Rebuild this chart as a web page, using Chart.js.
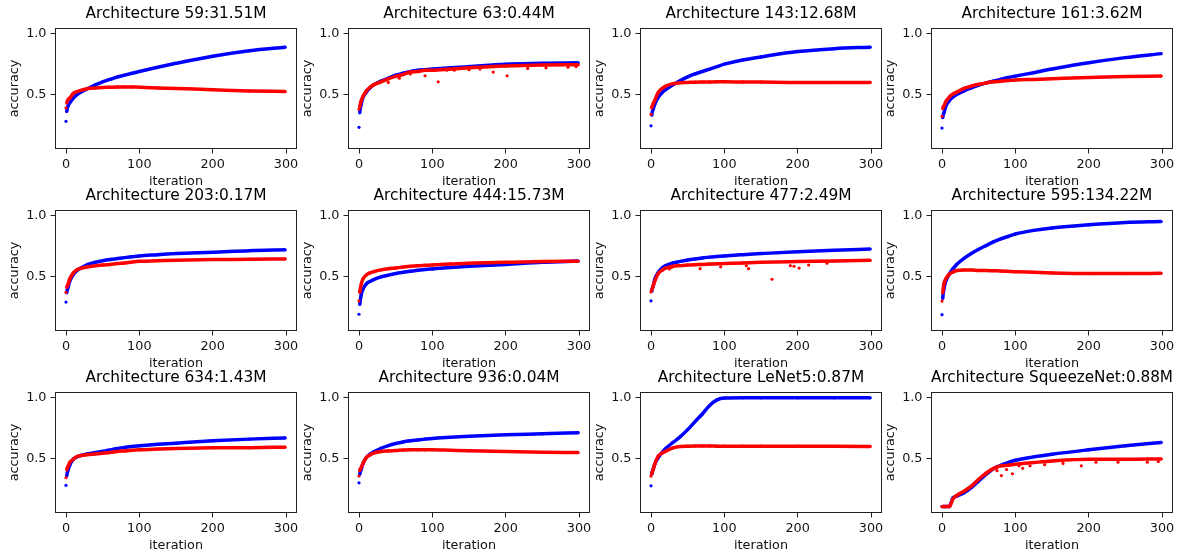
<!DOCTYPE html>
<html>
<head>
<meta charset="utf-8">
<script src="https://cdn.jsdelivr.net/npm/chart.js@4.4.1/dist/chart.umd.min.js"></script>
<style>
    body { margin: 0; background: #fff; width: 1180px; height: 559px; position: relative; overflow: hidden; }
    .cell { position: absolute; width: 307px; height: 194px; }
</style>
</head>
<body>
<script>
var iterations = [0, 1, 3, 5, 10, 15, 20, 30, 40, 50, 60, 70, 80, 90, 100, 125, 150, 200, 250, 299];

var titles = [
    "Architecture 59:31.51M", "Architecture 63:0.44M", "Architecture 143:12.68M", "Architecture 161:3.62M",
    "Architecture 203:0.17M", "Architecture 444:15.73M", "Architecture 477:2.49M", "Architecture 595:134.22M",
    "Architecture 634:1.43M", "Architecture 936:0.04M", "Architecture LeNet5:0.87M", "Architecture SqueezeNet:0.88M"
];

// blue points
var trainAcc = [
    [0.28, 0.36, 0.41, 0.43, 0.47, 0.50, 0.52, 0.55, 0.58, 0.605, 0.625, 0.645, 0.66, 0.675, 0.69, 0.725, 0.757, 0.815, 0.86, 0.89],
    [0.23, 0.35, 0.42, 0.47, 0.52, 0.555, 0.58, 0.61, 0.635, 0.66, 0.675, 0.69, 0.70, 0.705, 0.71, 0.72, 0.73, 0.75, 0.757, 0.762],
    [0.243, 0.33, 0.38, 0.42, 0.48, 0.515, 0.54, 0.58, 0.615, 0.646, 0.67, 0.69, 0.71, 0.73, 0.75, 0.785, 0.81, 0.854, 0.878, 0.89],
    [0.224, 0.31, 0.356, 0.40, 0.45, 0.48, 0.50, 0.53, 0.555, 0.578, 0.595, 0.61, 0.625, 0.64, 0.652, 0.68, 0.71, 0.762, 0.804, 0.837],
    [0.29, 0.366, 0.415, 0.46, 0.516, 0.55, 0.57, 0.60, 0.618, 0.63, 0.64, 0.648, 0.656, 0.663, 0.67, 0.68, 0.69, 0.70, 0.713, 0.72],
    [0.19, 0.27, 0.35, 0.39, 0.44, 0.46, 0.475, 0.497, 0.512, 0.525, 0.535, 0.544, 0.552, 0.558, 0.563, 0.575, 0.585, 0.60, 0.617, 0.628],
    [0.30, 0.38, 0.42, 0.475, 0.535, 0.57, 0.59, 0.612, 0.625, 0.636, 0.645, 0.653, 0.66, 0.665, 0.67, 0.68, 0.689, 0.705, 0.716, 0.727],
    [0.186, 0.32, 0.41, 0.46, 0.52, 0.565, 0.60, 0.65, 0.69, 0.725, 0.755, 0.785, 0.81, 0.83, 0.85, 0.88, 0.90, 0.926, 0.945, 0.953],
    [0.28, 0.356, 0.41, 0.445, 0.495, 0.514, 0.525, 0.54, 0.55, 0.56, 0.57, 0.583, 0.592, 0.60, 0.605, 0.617, 0.627, 0.646, 0.66, 0.67],
    [0.30, 0.37, 0.41, 0.453, 0.508, 0.536, 0.555, 0.585, 0.607, 0.624, 0.637, 0.646, 0.653, 0.66, 0.666, 0.675, 0.683, 0.696, 0.704, 0.713],
    [0.276, 0.37, 0.41, 0.453, 0.508, 0.55, 0.582, 0.633, 0.68, 0.738, 0.804, 0.867, 0.937, 0.983, 0.998, 1.0, 1.0, 1.0, 1.0, 1.0],
    [0.105, 0.105, 0.105, 0.105, 0.105, 0.177, 0.19, 0.218, 0.26, 0.315, 0.37, 0.417, 0.445, 0.467, 0.486, 0.514, 0.536, 0.572, 0.605, 0.633]
];

// red points
var validAcc = [
    [0.39, 0.43, 0.46, 0.47, 0.51, 0.525, 0.535, 0.55, 0.555, 0.558, 0.56, 0.562, 0.563, 0.563, 0.56, 0.555, 0.55, 0.54, 0.53, 0.525],
    [0.38, 0.40, 0.45, 0.48, 0.53, 0.56, 0.58, 0.605, 0.63, 0.65, 0.665, 0.685, 0.69, 0.70, 0.70, 0.71, 0.72, 0.735, 0.743, 0.745],
    [0.337, 0.39, 0.425, 0.45, 0.52, 0.55, 0.57, 0.59, 0.598, 0.60, 0.602, 0.603, 0.604, 0.605, 0.605, 0.604, 0.603, 0.60, 0.60, 0.60],
    [0.32, 0.384, 0.41, 0.44, 0.48, 0.505, 0.52, 0.55, 0.57, 0.585, 0.595, 0.605, 0.61, 0.615, 0.62, 0.625, 0.63, 0.64, 0.648, 0.652],
    [0.37, 0.41, 0.44, 0.48, 0.53, 0.557, 0.568, 0.58, 0.588, 0.595, 0.60, 0.607, 0.612, 0.62, 0.626, 0.63, 0.634, 0.64, 0.642, 0.645],
    [0.30, 0.37, 0.435, 0.475, 0.513, 0.53, 0.54, 0.555, 0.565, 0.571, 0.578, 0.585, 0.59, 0.593, 0.596, 0.603, 0.61, 0.617, 0.623, 0.626],
    [0.374, 0.39, 0.425, 0.46, 0.525, 0.552, 0.57, 0.585, 0.59, 0.595, 0.598, 0.60, 0.603, 0.605, 0.607, 0.612, 0.617, 0.623, 0.628, 0.634],
    [0.298, 0.366, 0.45, 0.48, 0.52, 0.537, 0.55, 0.555, 0.555, 0.55, 0.55, 0.548, 0.546, 0.543, 0.54, 0.535, 0.53, 0.525, 0.525, 0.527],
    [0.342, 0.406, 0.44, 0.467, 0.495, 0.517, 0.525, 0.533, 0.538, 0.544, 0.55, 0.558, 0.563, 0.568, 0.572, 0.578, 0.583, 0.588, 0.59, 0.594],
    [0.356, 0.40, 0.425, 0.453, 0.508, 0.53, 0.544, 0.558, 0.563, 0.566, 0.57, 0.572, 0.572, 0.572, 0.572, 0.568, 0.564, 0.558, 0.552, 0.55],
    [0.356, 0.376, 0.41, 0.453, 0.522, 0.544, 0.56, 0.588, 0.60, 0.602, 0.603, 0.603, 0.603, 0.602, 0.602, 0.602, 0.602, 0.602, 0.601, 0.60],
    [0.105, 0.105, 0.105, 0.105, 0.105, 0.168, 0.196, 0.232, 0.273, 0.33, 0.38, 0.417, 0.44, 0.445, 0.453, 0.467, 0.48, 0.494, 0.494, 0.497]
];

// stray red points that sit off the curve: [iteration, accuracy]
var validStray = [
    [],
    [[40, 0.60], [55, 0.635], [70, 0.67], [90, 0.655], [108, 0.605], [120, 0.70], [130, 0.70], [150, 0.705], [165, 0.71],
     [183, 0.685], [202, 0.655], [230, 0.715], [255, 0.72], [285, 0.725], [296, 0.73]],
    [], [], [], [],
    [[25, 0.563], [28, 0.575], [67, 0.565], [95, 0.58], [130, 0.59], [133, 0.565], [165, 0.478], [190, 0.59],
     [195, 0.585], [202, 0.57], [215, 0.595], [240, 0.61]],
    [], [], [], [],
    [[60, 0.37], [75, 0.40], [81, 0.36], [88, 0.41], [96, 0.375], [105, 0.44], [110, 0.42], [120, 0.44], [140, 0.45],
     [165, 0.46], [190, 0.44], [210, 0.47], [240, 0.47], [280, 0.47], [295, 0.475]]
];

var colLeft = [55, 348, 640, 931];
var rowTop = [28, 210, 392];

var frame = {
    id: "frame",
    afterDraw: function (c) {
        var a = c.chartArea;
        var ctx = c.ctx;
        ctx.save();
        ctx.strokeStyle = "#222";
        ctx.lineWidth = 1;
        ctx.strokeRect(Math.round(a.left) + 0.5, Math.round(a.top) + 0.5,
            Math.round(a.right - a.left) - 1, Math.round(a.bottom - a.top) - 1);
        ctx.restore();
    }
};

var hideFirst = function (ctx) {
    return ctx.p0DataIndex === 0 ? "rgba(0,0,0,0)" : undefined;
};

var points = function (ys) {
    return iterations.map(function (x, j) { return { x: x, y: ys[j] }; });
};

for (var i = 0; i < 12; i++) {
    var div = document.createElement("div");
    div.className = "cell";
    div.style.left = (colLeft[i % 4] - 55) + "px";
    div.style.top = (rowTop[Math.floor(i / 4)] - 28) + "px";
    var cv = document.createElement("canvas");
    cv.width = 307;
    cv.height = 194;
    div.appendChild(cv);
    document.body.appendChild(div);

    new Chart(cv.getContext("2d"), {
        type: "scatter",
        data: {
            datasets: [
                {
                    data: points(validAcc[i]),
                    showLine: true,
                    borderColor: "#ff0000",
                    backgroundColor: "#ff0000",
                    borderWidth: 3.5,
                    pointRadius: 1.6,
                    pointBorderWidth: 0,
                    cubicInterpolationMode: "monotone",
                    segment: { borderColor: hideFirst },
                    order: 0,
                },
                {
                    data: validStray[i].map(function (p) { return { x: p[0], y: p[1] }; }),
                    backgroundColor: "#ff0000",
                    pointRadius: 1.6,
                    pointBorderWidth: 0,
                    order: 0,
                },
                {
                    data: points(trainAcc[i]),
                    showLine: true,
                    borderColor: "#0000ff",
                    backgroundColor: "#0000ff",
                    borderWidth: 3.5,
                    pointRadius: 1.6,
                    pointBorderWidth: 0,
                    cubicInterpolationMode: "monotone",
                    segment: { borderColor: hideFirst },
                    order: 1,
                },
            ],
        },
        options: {
            responsive: false,
            animation: false,
            events: [],
            layout: { padding: { left: 0, right: 10, top: 0, bottom: 0 } },
            plugins: {
                legend: { display: false },
                tooltip: { enabled: false },
                title: {
                    display: true,
                    text: titles[i],
                    align: "center",
                    fullSize: false,
                    color: "#000",
                    font: { family: "DejaVu Sans", size: 15.4, weight: "normal", lineHeight: 1.2 },
                    padding: { top: 5, bottom: 4.5 },
                },
            },
            scales: {
                x: {
                    type: "linear",
                    min: -15,
                    max: 315,
                    afterFit: function (s) { s.height = 45; },
                    afterBuildTicks: function (s) {
                        s.ticks = [0, 100, 200, 300].map(function (v) { return { value: v }; });
                    },
                    grid: { display: true, drawOnChartArea: false, drawTicks: true, tickLength: 4.5, color: "#222" },
                    border: { display: false },
                    ticks: { color: "#111", padding: 3, maxRotation: 0, font: { family: "DejaVu Sans", size: 12.8 } },
                    title: {
                        display: true,
                        text: "iteration",
                        color: "#111",
                        font: { family: "DejaVu Sans", size: 12.8 },
                        padding: { top: 4.6, bottom: 4.6 },
                    },
                },
                y: {
                    type: "linear",
                    min: 0.052,
                    max: 1.048,
                    afterFit: function (s) { s.width = 55; },
                    afterBuildTicks: function (s) {
                        s.ticks = [0.5, 1.0].map(function (v) { return { value: v }; });
                    },
                    grid: { display: true, drawOnChartArea: false, drawTicks: true, tickLength: 4.5, color: "#222" },
                    border: { display: false },
                    ticks: {
                        color: "#111",
                        padding: 4,
                        font: { family: "DejaVu Sans", size: 12.8 },
                        callback: function (v) { return v.toFixed(1); },
                    },
                    title: {
                        display: true,
                        text: "accuracy",
                        color: "#111",
                        font: { family: "DejaVu Sans", size: 12.8 },
                        padding: { top: 6.5, bottom: 6.5 },
                    },
                },
            },
        },
        plugins: [frame],
    });
}
</script>
</body>
</html>
